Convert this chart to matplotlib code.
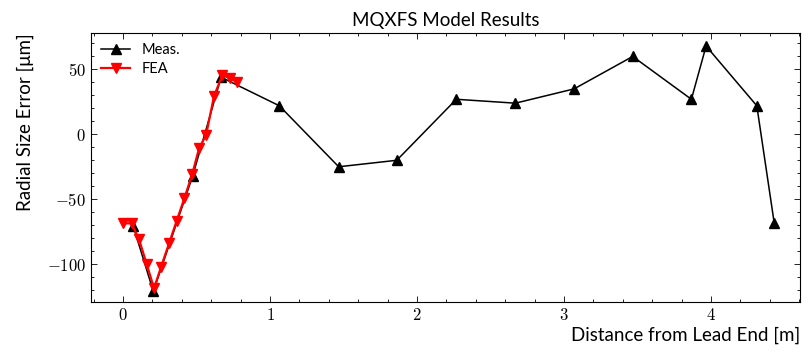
"""MQXFS model results: measured vs FEA radial size error along the coil."""

import matplotlib
matplotlib.use("Agg")
import matplotlib.pyplot as plt
from matplotlib.ticker import MultipleLocator, FuncFormatter

# measured radial size error
meas_x = [0.070, 0.206, 0.474, 0.667, 1.063, 1.467, 1.862, 2.267, 2.669,
          3.068, 3.467, 3.866, 3.966, 4.311, 4.429]
meas_y = [-71, -121, -32, 44, 22, -25, -20, 27, 24,
          35, 60, 27, 68, 22, -68]

# FEA prediction
fea_x = [0.002, 0.059, 0.109, 0.161, 0.211, 0.259, 0.313, 0.365,
         0.417, 0.471, 0.517, 0.565, 0.619, 0.676, 0.728, 0.778]
fea_y = [-68.6, -68.6, -81, -100, -118.6, -102, -84, -66.6,
         -49.3, -30.6, -10.8, -0.5, 29.5, 45.7, 43.1, 40.5]

plt.rcParams["font.family"] = ["Lato", "DejaVu Sans"]
plt.rcParams["mathtext.fontset"] = "cm"

fig = plt.figure(figsize=(8.03, 3.52), dpi=100)
ax = fig.add_axes([0.1133, 0.142, 0.883, 0.764])

ax.plot(meas_x, meas_y, color="black", marker="^", markersize=6.5, linewidth=1.1, label="Meas.")
ax.plot(fea_x, fea_y, color="red", marker="v", markersize=6.5, linewidth=1.6, label="FEA")

ax.set_xlim(-0.218, 4.605)
ax.set_ylim(-129.2, 78.0)

ax.xaxis.set_major_locator(MultipleLocator(1))
ax.xaxis.set_minor_locator(MultipleLocator(0.2))
ax.yaxis.set_major_locator(MultipleLocator(50))
ax.yaxis.set_minor_locator(MultipleLocator(10))
fmt = FuncFormatter(lambda v, pos: f"${v:g}$")
ax.xaxis.set_major_formatter(fmt)
ax.yaxis.set_major_formatter(fmt)

ax.tick_params(which="both", direction="in", top=True, right=True, labelsize=12, width=0.6)
ax.tick_params(which="major", length=4)
ax.tick_params(which="minor", length=2)
for spine in ax.spines.values():
    spine.set_linewidth(0.8)

ax.set_title("MQXFS Model Results", fontsize=13.5, pad=5)
ax.set_xlabel("Distance from Lead End [m]", fontsize=13.5, loc="right", labelpad=3)
ax.set_ylabel("Radial Size Error [\u03bcm]", fontsize=13.5, loc="top", labelpad=9)
ax.legend(loc="upper left", frameon=False, fontsize=10.5, handlelength=2.0,
          borderaxespad=0.3, labelspacing=0.3)

fig.savefig("out.png", dpi=100)
